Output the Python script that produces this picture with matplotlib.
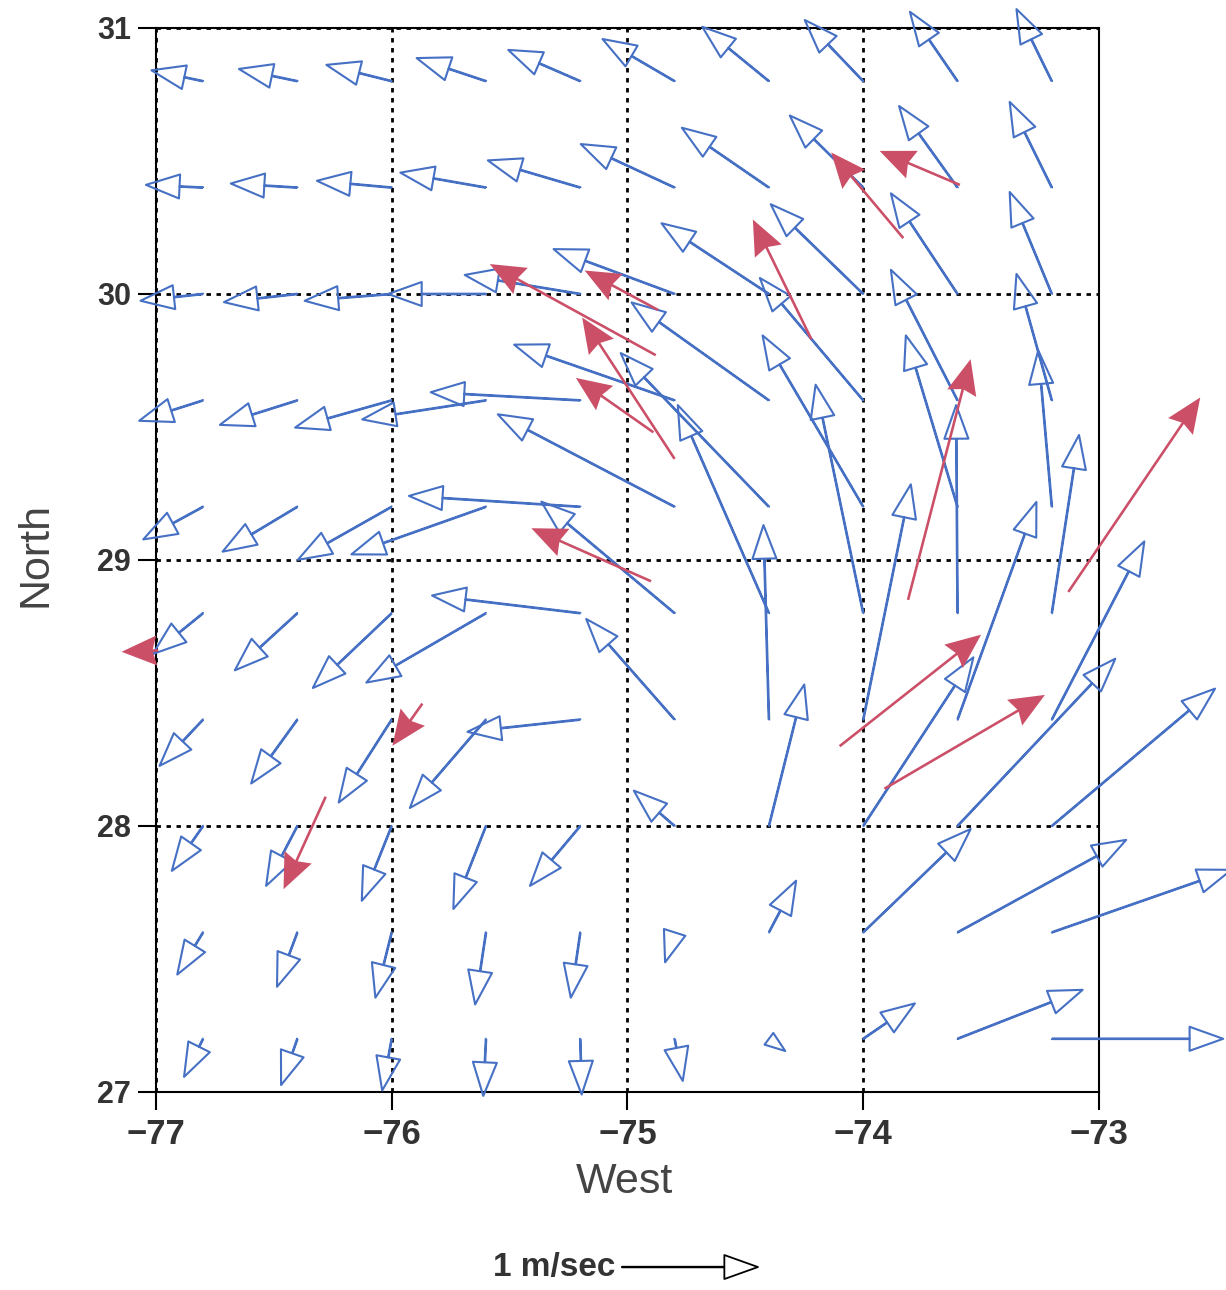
import numpy as np
import matplotlib
matplotlib.use("Agg")
import matplotlib.pyplot as plt

plt.rcParams['font.family'] = ['Liberation Sans', 'DejaVu Sans']

# model grid (tail of every blue vector)
lon = [-76.8, -76.4, -76.0, -75.6, -75.2, -74.8, -74.4, -74.0, -73.6, -73.2]
lat = [27.2, 27.6, 28.0, 28.4, 28.8, 29.2, 29.6, 30.0, 30.4, 30.8]

# model currents, m/s (rows go south -> north)
u_model = [
    [-0.14, -0.12, -0.07, -0.02, 0.01, 0.06, 0.12, 0.38, 0.92, 1.26],
    [-0.19, -0.15, -0.12, -0.08, -0.07, -0.07, 0.20, 0.79, 1.24, 1.32],
    [-0.23, -0.23, -0.22, -0.24, -0.37, -0.30, 0.26, 0.81, 1.16, 1.20],
    [-0.32, -0.34, -0.39, -0.56, -0.83, -0.65, -0.04, 0.35, 0.58, 0.68],
    [-0.37, -0.46, -0.58, -0.88, -1.09, -0.98, -0.67, -0.35, -0.01, 0.20],
    [-0.44, -0.55, -0.69, -0.99, -1.26, -1.30, -1.09, -0.74, -0.38, -0.10],
    [-0.47, -0.57, -0.71, -0.91, -1.10, -1.18, -1.01, -0.76, -0.49, -0.26],
    [-0.46, -0.54, -0.64, -0.72, -0.85, -0.89, -0.79, -0.68, -0.49, -0.31],
    [-0.42, -0.49, -0.55, -0.63, -0.68, -0.69, -0.64, -0.54, -0.43, -0.31],
    [-0.38, -0.43, -0.48, -0.51, -0.53, -0.53, -0.49, -0.43, -0.35, -0.26],
]
v_model = [
    [-0.28, -0.34, -0.38, -0.42, -0.41, -0.31, -0.09, 0.26, 0.36, 0.00],
    [-0.31, -0.40, -0.48, -0.53, -0.48, -0.22, 0.38, 0.76, 0.68, 0.46],
    [-0.33, -0.44, -0.55, -0.61, -0.44, 0.26, 1.04, 1.24, 1.23, 1.01],
    [-0.34, -0.47, -0.61, -0.65, -0.09, 0.74, 1.43, 1.73, 1.60, 1.31],
    [-0.30, -0.42, -0.55, -0.51, 0.13, 0.82, 1.53, 1.68, 1.53, 1.31],
    [-0.24, -0.33, -0.39, -0.35, 0.08, 0.68, 1.13, 1.26, 1.26, 1.15],
    [-0.15, -0.18, -0.20, -0.14, 0.06, 0.41, 0.72, 0.90, 0.96, 0.93],
    [-0.05, -0.06, -0.05, 0.00, 0.14, 0.33, 0.52, 0.66, 0.74, 0.75],
    [0.02, 0.03, 0.05, 0.11, 0.20, 0.32, 0.44, 0.53, 0.60, 0.63],
    [0.08, 0.09, 0.12, 0.17, 0.23, 0.31, 0.40, 0.45, 0.51, 0.53],
]

# observed drifter velocities
obs_lon = [-73.59, -73.83, -74.22, -74.87, -74.88, -74.80, -74.89, -74.90,
           -76.99, -75.87, -76.28, -73.81, -73.13, -74.10, -73.91]
obs_lat = [30.41, 30.21, 29.83, 29.94, 29.77, 29.38, 29.48, 28.92,
           28.66, 28.46, 28.11, 28.85, 28.88, 28.30, 28.14]
obs_u = [-0.59, -0.53, -0.43, -0.54, -1.22, -0.68, -0.57, -0.88,
         -0.27, -0.22, -0.31, 0.46, 0.97, 1.04, 1.18]
obs_v = [0.25, 0.63, 0.88, 0.29, 0.67, 1.04, 0.40, 0.39,
         -0.01, -0.31, -0.68, 1.77, 1.43, 0.82, 0.69]

BLUE = '#4670c4'
RED = '#cc4f68'
INK = '#333333'
ARROW_SCALE = 1 / 1.36   # 1 m/s drawn 1.36 inch long

fig = plt.figure(figsize=(12.26, 12.9), dpi=100)
ax = fig.add_axes([0.1272, 0.1535, 0.7692, 0.8248])

LON, LAT = np.meshgrid(lon, lat)
qb = ax.quiver(LON, LAT, np.array(u_model), np.array(v_model),
               units='dots', width=0.6, headwidth=40, headlength=56,
               headaxislength=56, scale_units='inches', scale=ARROW_SCALE,
               facecolors='none', edgecolors=BLUE, linewidths=1.5,
               clip_on=False, zorder=3)

ax.quiver(obs_lon, obs_lat, obs_u, obs_v,
          units='dots', width=2.6, headwidth=11.5, headlength=13.5,
          headaxislength=12, scale_units='inches', scale=ARROW_SCALE,
          color=RED, linewidths=0, clip_on=False, zorder=4)

ax.quiverkey(qb, 0.5073, 0.0178, 1, '1 m/sec', labelpos='W',
             coordinates='figure', labelsep=0.07, labelcolor=INK,
             fontproperties={'size': 24, 'weight': 'bold'},
             facecolors='none', edgecolors='k', linewidths=1.3)

ax.set_xlim(-77, -73)
ax.set_ylim(27, 31)
ax.set_xticks([-77, -76, -75, -74, -73])
ax.set_yticks([27, 28, 29, 30, 31])

ax.grid(True, color='k', linestyle=(0, (1.6, 2.0)), linewidth=2.0)
ax.set_axisbelow(True)

for sp in ax.spines.values():
    sp.set_linewidth(1.5)
ax.tick_params(direction='out', length=13, width=1.5, colors='k',
               top=False, right=False)
ax.tick_params(axis='x', labelsize=25, pad=6, labelcolor=INK)
ax.tick_params(axis='y', labelsize=22, pad=5, labelcolor=INK)
for lbl in ax.get_xticklabels() + ax.get_yticklabels():
    lbl.set_fontweight('bold')

ax.set_xlabel('West', fontsize=31, color='#444444')
ax.set_ylabel('North', fontsize=31, color='#444444')
ax.xaxis.set_label_coords(0.497, -0.066)
ax.yaxis.set_label_coords(-0.107, 0.505)

fig.savefig('out.png', dpi=100)
